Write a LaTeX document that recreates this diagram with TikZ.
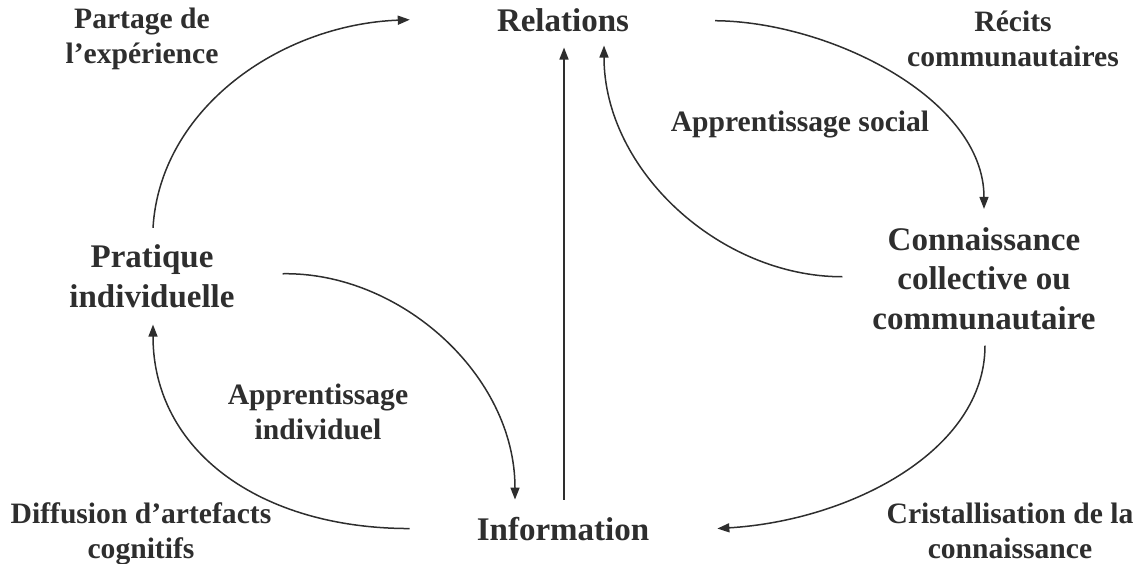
\documentclass[tikz,border=0pt]{standalone}
\usepackage{fontspec}
\setmainfont{Liberation Serif}
\usetikzlibrary{arrows.meta}
\definecolor{ink}{HTML}{2E2E2E}
\begin{document}
\begin{tikzpicture}[x=1pt,y=-1pt,
  main/.style={font=\bfseries\fontsize{33}{40}\selectfont, text=ink, align=center, inner sep=0pt, anchor=base},
  lab/.style={font=\bfseries\fontsize{29.6}{35}\selectfont, text=ink, align=center, inner sep=0pt, anchor=base},
  arr/.style={draw=ink, line width=1.5pt, -{Triangle[length=12pt,width=9pt]}}]
\useasboundingbox (0,0) rectangle (1144,564);
% main nodes (anchor = baseline of last line)
\node[main] (rel)  at (563,32)  {Relations};
\node[main] (prat) at (152,308) {Pratique\\individuelle};
\node[main] (conn) at (984,330) {Connaissance\\collective ou\\communautaire};
\node[main] (info) at (563,540) {Information};
% labels
\node[lab] (l1) at (142,64)  {Partage de\\l’expérience};
\node[lab] (l2) at (1013,67) {Récits\\communautaires};
\node[lab] (l3) at (800,132) {Apprentissage social};
\node[lab] (l4) at (318,439) {Apprentissage\\individuel};
\node[lab] (l5) at (141,558) {Diffusion d’artefacts\\cognitifs};
\node[lab] (l6) at (1010,558) {Cristallisation de la\\connaissance};
% connectors
\draw[arr] ([shift={(1,-17)}]prat.north) .. controls +(7,-119) and +(-130,5) .. ([shift={(-87,-1)}]rel.west);
\draw[arr] ([shift={(86,0)}]rel.east) .. controls +(115,1) and +(0,-110) .. ([shift={(0,-18)}]conn.north);
\draw[arr] ([shift={(-30,-2)}]conn.west) .. controls +(-122,0) and +(0,125) .. ([shift={(41,13)}]rel.south);
\draw[arr] ([shift={(48,-3)}]prat.east) .. controls +(117,-2) and +(0,-125) .. ([shift={(-48,-17)}]info.north);
\draw[arr] ([shift={(-67,0)}]info.west) .. controls +(-150,0) and +(0,126) .. ([shift={(1,16)}]prat.south);
\draw[arr] ([shift={(1,15)}]conn.south) .. controls +(0,105) and +(133,-8) .. ([shift={(68,0)}]info.east);
\draw[arr] ([shift={(1,-17)}]info.north) -- ([shift={(1,15)}]rel.south);
\end{tikzpicture}
\end{document}
